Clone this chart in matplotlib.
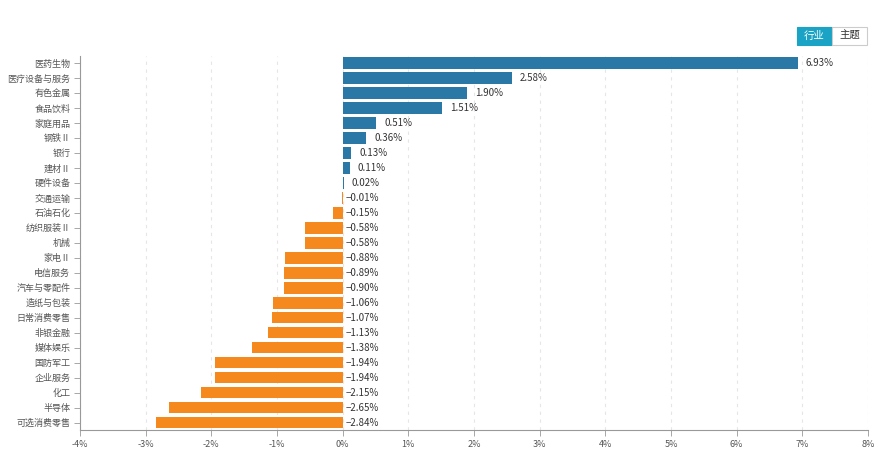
import matplotlib
matplotlib.use("Agg")
import matplotlib.pyplot as plt
from matplotlib.patches import Rectangle

plt.rcParams['font.family'] = ['Noto Sans CJK SC', 'DejaVu Sans']

industries = ['医药生物', '医疗设备与服务', '有色金属', '食品饮料', '家庭用品', '钢铁Ⅱ', '银行',
              '建材Ⅱ', '硬件设备', '交通运输', '石油石化', '纺织服装Ⅱ', '机械', '家电Ⅱ',
              '电信服务', '汽车与零配件', '造纸与包装', '日常消费零售', '非银金融', '媒体娱乐',
              '国防军工', '企业服务', '化工', '半导体', '可选消费零售']
changes = [6.93, 2.58, 1.90, 1.51, 0.51, 0.36, 0.13, 0.11, 0.02, -0.01, -0.15, -0.58, -0.58,
           -0.88, -0.89, -0.90, -1.06, -1.07, -1.13, -1.38, -1.94, -1.94, -2.15, -2.65, -2.84]
xticks = [-4, -3, -2, -1, 0, 1, 2, 3, 4, 5, 6, 7, 8]

blue = '#2a78a6'
orange = '#f5891e'

fig = plt.figure(figsize=(8.86, 4.57), dpi=100)
ax = fig.add_axes([80 / 886, 1 - 430 / 457, 788 / 886, 374.5 / 457])

y = list(range(len(industries)))
colors = [blue if v >= 0 else orange for v in changes]
ax.barh(y, changes, height=0.78, color=colors, linewidth=0, zorder=3)

# 正值标签放在柱端右侧，负值标签贴着0轴
for yi, v in zip(y, changes):
    xpos = v + 0.12 if v >= 0 else 0.05
    ax.text(xpos, yi, f'{v:.2f}%'.replace('-', '−'), va='center', ha='left',
            fontsize=7, color='#333333', zorder=4)

ax.set_ylim(len(industries) - 0.5, -0.5)
ax.set_yticks(y)
ax.set_yticklabels(industries, fontsize=6.5, color='#555555')
ax.set_xlim(-4, 8)
ax.set_xticks(xticks)
ax.set_xticklabels([f'{t}%' for t in xticks], fontsize=6.5, color='#555555')

ax.grid(axis='x', linestyle=(0, (3, 4)), color='#e6e6e6', linewidth=0.8, zorder=0)
for s in ['top', 'right']:
    ax.spines[s].set_visible(False)
for s in ['left', 'bottom']:
    ax.spines[s].set_color('#999999')
    ax.spines[s].set_linewidth(0.8)
ax.tick_params(axis='y', length=4, width=0.6, color='#999999', pad=3)
ax.tick_params(axis='x', length=4, width=0.6, color='#999999', pad=3)

# 右上角切换按钮
bw, bh = 35 / 886, 18 / 457
bx, by = 797 / 886, 1 - 45 / 457
fig.patches.append(Rectangle((bx, by), bw, bh, transform=fig.transFigure,
                             facecolor='#1aa3c4', edgecolor='#1aa3c4', linewidth=0.8))
fig.patches.append(Rectangle((bx + bw, by), bw, bh, transform=fig.transFigure,
                             facecolor='white', edgecolor='#cccccc', linewidth=0.8))
fig.text(bx + bw / 2, by + bh / 2, '行业', ha='center', va='center', fontsize=7.5, color='white')
fig.text(bx + 1.5 * bw, by + bh / 2, '主题', ha='center', va='center', fontsize=7.5, color='#333333')

fig.savefig('out.png', dpi=100)
